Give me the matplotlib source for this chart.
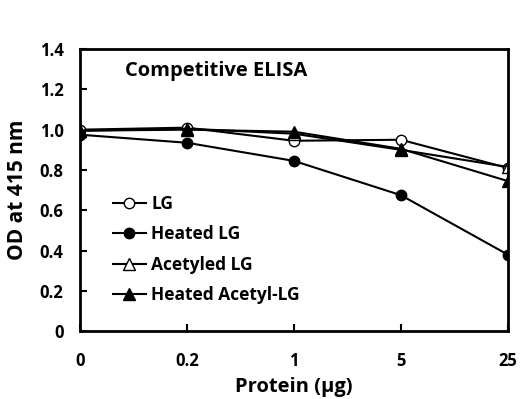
import matplotlib
matplotlib.use("Agg")
import matplotlib.pyplot as plt

plt.rcParams['font.family'] = ['Open Sans', 'DejaVu Sans']
plt.rcParams['font.weight'] = 'bold'

doses = ['0', '0.2', '1', '5', '25']
lg = [1.00, 1.01, 0.945, 0.95, 0.81]
heated_lg = [0.975, 0.935, 0.845, 0.675, 0.38]
acetyled_lg = [0.995, 1.005, 0.98, 0.90, 0.815]
heated_acetyl_lg = [0.995, 1.0, 0.99, 0.905, 0.745]

fig = plt.figure(figsize=(5.24, 3.99), dpi=100)
ax = fig.add_axes([0.153, 0.170, 0.816, 0.707])
x = range(len(doses))
ax.plot(x, lg, '-o', color='black', mfc='white', ms=7.5, lw=1.5, label='LG')
ax.plot(x, heated_lg, '-o', color='black', ms=7.5, lw=1.5, label='Heated LG')
ax.plot(x, acetyled_lg, '-^', color='black', mfc='white', ms=8.5, lw=1.5, label='Acetyled LG')
ax.plot(x, heated_acetyl_lg, '-^', color='black', ms=8.5, lw=1.5, label='Heated Acetyl-LG')

ax.set_xlim(0, 4)
ax.set_ylim(0, 1.4)
ax.set_xticks(list(x))
ax.set_xticklabels(doses)
ax.set_yticks([0, 0.2, 0.4, 0.6, 0.8, 1.0, 1.2, 1.4])
ax.set_yticklabels(['0', '0.2', '0.4', '0.6', '0.8', '1.0', '1.2', '1.4'])
ax.tick_params(direction='in', length=5, width=1.5, labelsize=12)
ax.tick_params(axis='x', pad=15)
ax.tick_params(axis='y', pad=12)
for s in ax.spines.values():
    s.set_linewidth(2)
ax.set_xlabel('Protein (μg)', fontsize=14.5, fontweight='bold', labelpad=5)
ax.set_ylabel('OD at 415 nm', fontsize=15, fontweight='bold', labelpad=8)
ax.text(0.42, 1.265, 'Competitive ELISA', fontsize=14.5, fontweight='bold')
ax.legend(loc='lower left', bbox_to_anchor=(0.04, 0.04), frameon=False,
          fontsize=12.5, handlelength=1.9, labelspacing=0.72, handletextpad=0.3)

fig.savefig('out.png', dpi=100)
